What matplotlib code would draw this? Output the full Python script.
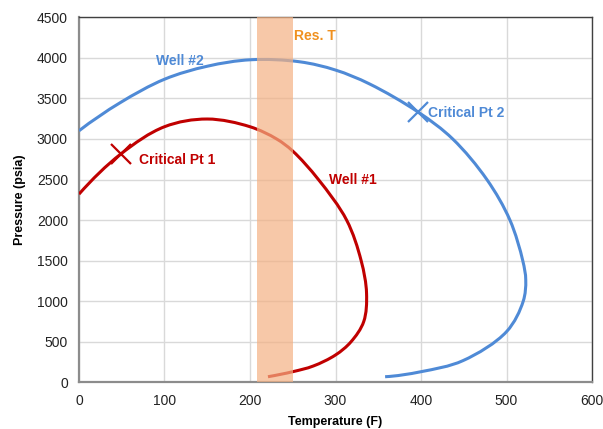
import matplotlib
matplotlib.use("Agg")
import numpy as np
import matplotlib.pyplot as plt
from matplotlib.path import Path
from matplotlib.patches import PathPatch

# Phase envelope of well #1 (temperature F, pressure psia)
well1_T = [0, 49, 100, 150, 200, 231, 250, 280, 313, 330, 336.3,
           333, 318, 300, 274, 250, 221]
well1_P = [2320, 2815, 3150, 3245, 3150, 3000, 2850, 2500, 2000, 1500, 1100,
           750, 500, 339, 203, 133, 71]

# Phase envelope of well #2
well2_T = [0, 48, 100, 150, 201, 258, 300, 340, 397, 437, 477, 504,
           519, 522.5, 519.5, 500, 449, 400, 358]
well2_P = [3100, 3445, 3735, 3895, 3975, 3950, 3848, 3676, 3328, 3000, 2500, 2000,
           1500, 1262, 1000, 626, 269, 133, 71]

# Critical points
crit1 = (49, 2815)
crit2 = (397, 3328)

# Reservoir temperature band
res_T = (208, 250)

x_ticks = [0, 100, 200, 300, 400, 500, 600]
y_ticks = [0, 500, 1000, 1500, 2000, 2500, 3000, 3500, 4000, 4500]

RED = "#C00000"
BLUE = "#4F8AD6"
ORANGE = "#F0901E"

# units per screen pixel on each axis, so the smoothing works in a square space
SX, SY = 100 / 85.55, 500 / 40.6


def smooth_path(xs, ys, alpha=0.5):
    """Centripetal Catmull-Rom line through the points, as cubic Bezier segments."""
    p = np.column_stack([np.asarray(xs, float) / SX, np.asarray(ys, float) / SY])
    # phantom end points continue the curvature of the first/last three points
    head = 3 * p[0] - 3 * p[1] + p[2]
    tail = 3 * p[-1] - 3 * p[-2] + p[-3]
    p = np.vstack([head, p, tail])
    verts = [p[1]]
    codes = [Path.MOVETO]
    for i in range(1, len(p) - 2):
        p0, p1, p2, p3 = p[i - 1], p[i], p[i + 1], p[i + 2]
        d0 = np.linalg.norm(p1 - p0) ** alpha
        d1 = np.linalg.norm(p2 - p1) ** alpha
        d2 = np.linalg.norm(p3 - p2) ** alpha
        m1 = (p1 - p0) / d0 - (p2 - p0) / (d0 + d1) + (p2 - p1) / d1
        m2 = (p2 - p1) / d1 - (p3 - p1) / (d1 + d2) + (p3 - p2) / d2
        verts += [p1 + m1 * d1 / 3, p2 - m2 * d1 / 3, p2]
        codes += [Path.CURVE4] * 3
    verts = np.array(verts) * [SX, SY]
    return Path(verts, codes)


plt.rcParams["font.family"] = ["Liberation Sans", "DejaVu Sans"]

fig = plt.figure(figsize=(6.03, 4.29), dpi=100)
ax = fig.add_axes([0.131, 0.1084, 0.8508, 0.8517])

for xs, ys, col in ((well1_T, well1_P, RED), (well2_T, well2_P, BLUE)):
    ax.add_patch(PathPatch(smooth_path(xs, ys), facecolor="none", edgecolor=col,
                           lw=2.2, capstyle="butt", zorder=3))

ax.plot(*crit1, marker="x", ms=14, mew=1.6, color=RED, zorder=4)
ax.plot(*crit2, marker="x", ms=14, mew=1.6, color=BLUE, zorder=4)

ax.axvspan(res_T[0], res_T[1], color="#F4B183", alpha=0.7, lw=0, zorder=5)

ax.text(118, 3960, "Well #2", color=BLUE, fontsize=10, fontweight="bold",
        ha="center", va="center")
ax.text(70, 2740, "Critical Pt 1", color=RED, fontsize=10, fontweight="bold",
        ha="left", va="center")
ax.text(320, 2500, "Well #1", color=RED, fontsize=10, fontweight="bold",
        ha="center", va="center")
ax.text(408, 3325, "Critical Pt 2", color=BLUE, fontsize=10, fontweight="bold",
        ha="left", va="center")
ax.text(251, 4270, "Res. T", color=ORANGE, fontsize=10, fontweight="bold",
        ha="left", va="center")

ax.set_xlim(0, 600)
ax.set_ylim(0, 4500)
ax.set_xticks(x_ticks)
ax.set_yticks(y_ticks)
ax.tick_params(length=0, labelsize=10, colors="#222222", pad=8)
ax.grid(True, color="#D9D9D9", lw=1.0, zorder=0)
ax.set_axisbelow(True)

for side in ("left", "bottom"):
    ax.spines[side].set_color("#8C8C8C")
    ax.spines[side].set_linewidth(1.6)
for side in ("top", "right"):
    ax.spines[side].set_color("#404040")
    ax.spines[side].set_linewidth(1.0)

ax.set_xlabel("Temperature (F)", fontsize=9, fontweight="bold", labelpad=6)
ax.set_ylabel("Pressure (psia)", fontsize=9, fontweight="bold", labelpad=8)

fig.savefig("out.png", dpi=100)
